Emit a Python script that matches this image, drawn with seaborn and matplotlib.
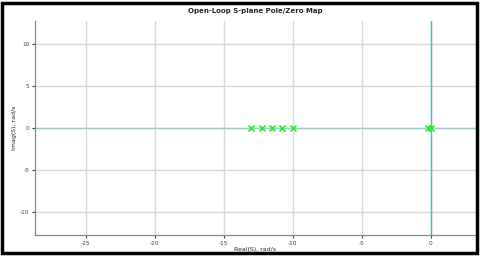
import matplotlib
matplotlib.use("Agg")
import matplotlib.pyplot as plt
import seaborn as sns
import numpy as np
from matplotlib.patches import Rectangle

# open-loop poles (real, imag)
pole_re = [-13.0, -12.25, -11.5, -10.75, -10.0, -0.15, 0.0]
pole_im = [0, 0, 0, 0, 0, 0, 0]
x_ticks = [-25, -20, -15, -10, -5, 0]
y_ticks = [-10, -5, 0, 5, 10]

sns.set_style("whitegrid")
plt.rcParams['font.family'] = ['DejaVu Sans']
plt.rcParams['axes.unicode_minus'] = False

fig = plt.figure(figsize=(4.8, 2.56), dpi=100)
ax = fig.add_axes([35 / 480, 21 / 256, 441 / 480, 214 / 256])

ax.axhline(0, color='#8ecfcf', lw=1.0, zorder=1)
ax.axvline(0, color='#5fb3b3', lw=1.0, zorder=1)
sns.scatterplot(x=pole_re, y=pole_im, ax=ax, marker='x', s=18,
                color='#22ee22', linewidth=1.2, zorder=3)

ax.set_xlim(-28.7, 3.3)
ax.set_ylim(-12.8, 12.8)
ax.set_xticks(x_ticks)
ax.set_yticks(y_ticks)
ax.grid(True, color='#d8d8d8', lw=1.0)
ax.tick_params(labelsize=4.2, colors='#444444', length=2.5, width=0.8,
               direction='out', pad=1.5, left=True, bottom=True)
for side in ['top', 'right']:
    ax.spines[side].set_visible(False)
for side in ['left', 'bottom']:
    ax.spines[side].set_color('#888888')
    ax.spines[side].set_linewidth(0.9)

ax.set_title('Open-Loop S-plane Pole/Zero Map', fontsize=5, fontweight='bold', pad=6)
ax.set_xlabel('Real(S), rad/s', fontsize=4.5, labelpad=1)
ax.set_ylabel('Imag(S), rad/s', fontsize=4.5, labelpad=2)

fig.patches.append(Rectangle((0.004, 0.01), 0.99, 0.98, transform=fig.transFigure,
                             fill=False, edgecolor='black', lw=2.5))

fig.savefig('out.png', dpi=100)
